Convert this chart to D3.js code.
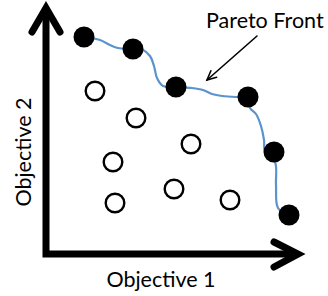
<!DOCTYPE html>
<html>
<head>
<meta charset="utf-8">
<script src="https://cdn.jsdelivr.net/npm/d3@7"></script>
<style>
  html, body { margin: 0; padding: 0; background: #fff; }
  text { font-family: Lato, "Open Sans", sans-serif; fill: #000; }
</style>
</head>
<body>
<div id="chart"></div>
<script>
// Pareto front points (objective 1, objective 2)
const frontX = [1.52, 3.48, 5.2, 8.08, 9.12, 9.72];
const frontY = [8.68, 8.2, 6.68, 6.28, 4.08, 1.56];

// dominated solutions
const otherX = [1.96, 3.6, 5.8, 2.68, 5.12, 2.76, 7.36];
const otherY = [6.52, 5.44, 4.4, 3.68, 2.6, 2.04, 2.16];

// hand-drawn front curve
const curveX = [1.52, 2.16, 2.56, 2.88, 3.48, 3.88, 4.16, 4.32, 4.44, 4.68, 5.2, 5.84, 6.28, 6.64, 7.04, 7.6, 8.08, 8.16, 8.4, 8.6, 8.72, 8.76, 9.16, 9.2, 9.28, 9.72];
const curveY = [8.68, 8.56, 8.36, 8.24, 8.2, 8.16, 7.92, 7.52, 7.04, 6.72, 6.68, 6.64, 6.56, 6.4, 6.32, 6.28, 6.28, 5.84, 5.6, 5.12, 4.56, 4.08, 3.68, 2.76, 1.84, 1.56];

const xLabel = "Objective 1";
const yLabel = "Objective 2";
const noteText = "Pareto Front";
const noteFrom = [8.44, 8.72];
const noteTo = [6.44, 6.96];
const notePos = [6.4, 9.04];

const width = 328, height = 296;

const svg = d3.select("#chart").append("svg")
    .attr("width", width)
    .attr("height", height);

const x = d3.scaleLinear().domain([0, 10]).range([46, 296]);
const y = d3.scaleLinear().domain([0, 10]).range([254, 4]);

// axes as thick arrows
const x0 = x(0), y0 = y(0), xEnd = x(10) + 2, yEnd = y(10) + 4;
const axisG = svg.append("g")
    .attr("fill", "none")
    .attr("stroke", "#000")
    .attr("stroke-width", 7);

axisG.append("path")
    .attr("stroke-linejoin", "miter")
    .attr("d", `M${x0},${yEnd} L${x0},${y0} L${xEnd},${y0}`);

axisG.append("path")
    .attr("stroke-linecap", "round")
    .attr("stroke-linejoin", "miter")
    .attr("d", `M${x0 - 14},${yEnd + 24} L${x0},${yEnd} L${x0 + 14},${yEnd + 24}`);

axisG.append("path")
    .attr("stroke-linecap", "round")
    .attr("stroke-linejoin", "miter")
    .attr("d", `M${xEnd - 24},${y0 - 12} L${xEnd},${y0} L${xEnd - 24},${y0 + 13}`);

// front curve
const line = d3.line()
    .x(i => x(curveX[i]))
    .y(i => y(curveY[i]))
    .curve(d3.curveCatmullRom.alpha(0.5));

svg.append("path")
    .datum(d3.range(curveX.length))
    .attr("d", line)
    .attr("fill", "none")
    .attr("stroke", "#5b93cf")
    .attr("stroke-width", 2.2);

// dominated points
svg.append("g").selectAll("circle")
    .data(d3.range(otherX.length))
    .join("circle")
    .attr("cx", i => x(otherX[i]))
    .attr("cy", i => y(otherY[i]))
    .attr("r", 9.3)
    .attr("fill", "#fff")
    .attr("stroke", "#000")
    .attr("stroke-width", 2.4);

// pareto points
svg.append("g").selectAll("circle")
    .data(d3.range(frontX.length))
    .join("circle")
    .attr("cx", i => x(frontX[i]))
    .attr("cy", i => y(frontY[i]))
    .attr("r", 10.5)
    .attr("fill", "#000");

// annotation arrow
const ax1 = x(noteFrom[0]), ay1 = y(noteFrom[1]);
const ax2 = x(noteTo[0]), ay2 = y(noteTo[1]);
const ang = Math.atan2(ay2 - ay1, ax2 - ax1);
const headLen = 10, spread = 0.45;

const note = svg.append("g")
    .attr("fill", "none")
    .attr("stroke", "#000")
    .attr("stroke-width", 1.6)
    .attr("stroke-linecap", "round");

note.append("line")
    .attr("x1", ax1).attr("y1", ay1)
    .attr("x2", ax2).attr("y2", ay2);

note.append("path")
    .attr("d", `M${ax2 - headLen * Math.cos(ang - spread)},${ay2 - headLen * Math.sin(ang - spread)}
               L${ax2},${ay2}
               L${ax2 - headLen * Math.cos(ang + spread)},${ay2 - headLen * Math.sin(ang + spread)}`);

svg.append("text")
    .attr("x", x(notePos[0]))
    .attr("y", y(notePos[1]))
    .attr("font-size", "21.5px")
    .text(noteText);

// axis labels
svg.append("text")
    .attr("x", 161)
    .attr("y", 287)
    .attr("text-anchor", "middle")
    .attr("font-size", "21.5px")
    .text(xLabel);

svg.append("text")
    .attr("transform", "translate(31,152) rotate(-90)")
    .attr("text-anchor", "middle")
    .attr("font-size", "21.5px")
    .text(yLabel);
</script>
</body>
</html>
